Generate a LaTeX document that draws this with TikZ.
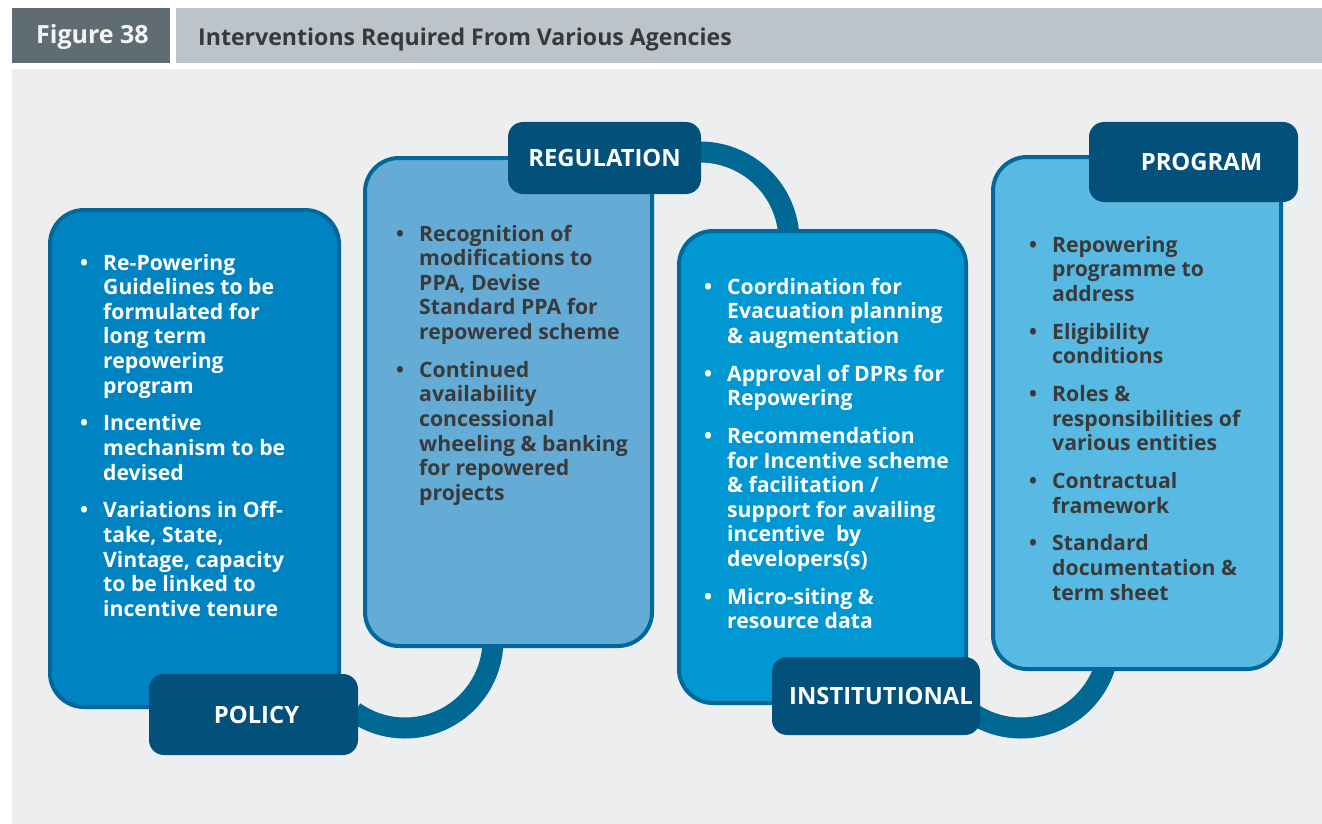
\documentclass[tikz,border=0pt]{standalone}
\usepackage{fontspec}
\setmainfont{Open Sans}
\definecolor{figbox}{HTML}{5F6C74}
\definecolor{titlebar}{HTML}{BCC4CA}
\definecolor{titletext}{HTML}{36393C}
\definecolor{bodybg}{HTML}{EDEEF0}
\definecolor{bdr}{HTML}{00699A}
\definecolor{fillA}{HTML}{0083C1}
\definecolor{fillB}{HTML}{64ACD6}
\definecolor{fillC}{HTML}{0097D3}
\definecolor{fillD}{HTML}{58BAE2}
\definecolor{lab}{HTML}{03507B}
\definecolor{arcc}{HTML}{006893}
\definecolor{darktext}{HTML}{3A3A3A}
\newcommand{\bx}{\makebox[23pt][l]{\textbullet}}
\newcommand{\gap}{\\[13.2pt]}
\tikzset{
  panel/.style={draw=bdr, line width=4pt, rounded corners=34pt, inner sep=0pt},
  tag/.style={fill=lab, rounded corners=15pt, inner sep=0pt, text=white,
    font=\bfseries\fontsize{23.8}{27}\selectfont},
  conn/.style={draw=arcc, line width=21pt},
  body/.style={anchor=base west, inner sep=0pt, font=\bfseries\fontsize{21.2}{24.6}\selectfont}
}
\begin{document}
\begin{tikzpicture}[x=1pt,y=1pt]
\useasboundingbox (0,0) rectangle (1322,-824);
% header
\fill[white] (0,0) rectangle (1322,-824);
\node[fill=figbox, minimum width=158pt, minimum height=55pt, inner sep=0pt, anchor=center] (fig) at (91,-35.5) {};
\node[inner sep=0pt, text=white!96!black, anchor=base,
  font=\bfseries\fontsize{25}{28}\selectfont] (figt) at (92.5,-44) {Figure 38};
\node[fill=titlebar, minimum width=1146pt, minimum height=55pt, inner sep=0pt, anchor=west] (ttlbar) at (176,-35.5) {};
\node[anchor=base west, inner sep=0pt, text=titletext, font=\bfseries\fontsize{23.1}{26}\selectfont] (ttl) at (198,-46) {Interventions Required From Various Agencies};
\fill[bodybg] (12,-69) rectangle (1322,-824);
% arc centres
\coordinate (c1) at (405,-640);
\coordinate (c2) at (700,-241);
\coordinate (c3) at (1021,-640);
% connectors
\draw[conn] (c1) ++(-125:88) arc[start angle=-125, end angle=5, radius=88];
\draw[conn] (c2) ++(95:89) arc[start angle=95, end angle=-5, radius=89];
\draw[conn] (c3) ++(-125:88) arc[start angle=-125, end angle=5, radius=88];
% panels
\node[panel, fill=fillA, minimum width=289pt, minimum height=497pt] (p1) at (194.5,-458.5) {};
\node[panel, fill=fillB, minimum width=287pt, minimum height=488pt] (p2) at (508.5,-402) {};
\node[panel, fill=fillC, minimum width=287pt, minimum height=472pt] (p3) at (822.5,-467) {};
\node[panel, fill=fillD, minimum width=288pt, minimum height=512pt] (p4) at (1137,-413) {};
% tags
\node[tag, minimum width=209pt, minimum height=81pt] (policy) at (253.5,-714.5) {\hspace*{6pt}POLICY};
\node[tag, minimum width=193pt, minimum height=72pt] (regulation) at (604.5,-158) {REGULATION};
\node[tag, minimum width=208pt, minimum height=78pt] (institutional) at (876,-696) {\hspace*{10pt}INSTITUTIONAL};
\node[tag, minimum width=209pt, minimum height=80pt] (program) at (1193.5,-162) {\hspace*{16pt}PROGRAM};
% texts
\node[body, text=white] (t1) at (80,-270) {\begin{tabular}[t]{@{}l@{}l@{}}
\bx & Re-Powering\\
 & Guidelines to be\\
 & formulated for\\
 & long term\\
 & repowering\\
 & program\gap
\bx & Incentive\\
 & mechanism to be\\
 & devised\gap
\bx & Variations in Off-\\
 & take, State,\\
 & Vintage, capacity\\
 & to be linked to\\
 & incentive tenure
\end{tabular}};
\node[body, text=darktext] (t2) at (396,-241) {\begin{tabular}[t]{@{}l@{}l@{}}
\bx & Recognition of\\
 & modifications to\\
 & PPA, Devise\\
 & Standard PPA for\\
 & repowered scheme\gap
\bx & Continued\\
 & availability\\
 & concessional\\
 & wheeling \& banking\\
 & for repowered\\
 & projects
\end{tabular}};
\node[body, text=white] (t3) at (704,-294) {\begin{tabular}[t]{@{}l@{}l@{}}
\bx & Coordination for\\
 & Evacuation planning\\
 & \& augmentation\gap
\bx & Approval of DPRs for\\
 & Repowering\gap
\bx & Recommendation\\
 & for Incentive scheme\\
 & \& facilitation /\\
 & support for availing\\
 & incentive\ \ by\\
 & developers(s)\gap
\bx & Micro-siting \&\\
 & resource data
\end{tabular}};
\node[body, text=darktext] (t4) at (1029,-252) {\begin{tabular}[t]{@{}l@{}l@{}}
\bx & Repowering\\
 & programme to\\
 & address\gap
\bx & Eligibility\\
 & conditions\gap
\bx & Roles \&\\
 & responsibilities of\\
 & various entities\gap
\bx & Contractual\\
 & framework\gap
\bx & Standard\\
 & documentation \&\\
 & term sheet
\end{tabular}};
\end{tikzpicture}
\end{document}
